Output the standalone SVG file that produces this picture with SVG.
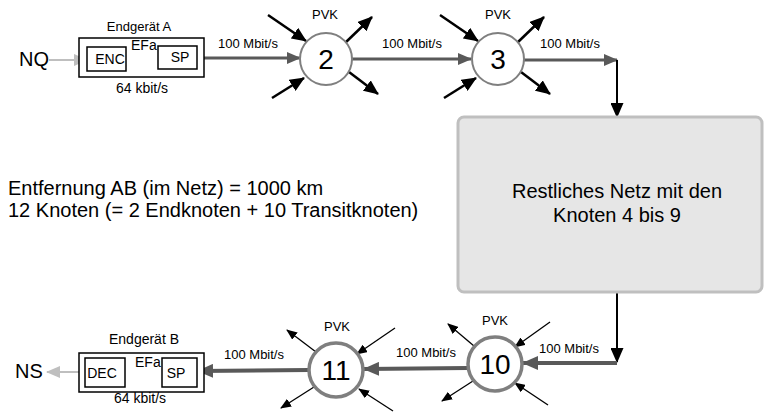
<svg xmlns="http://www.w3.org/2000/svg" width="765" height="412" viewBox="0 0 765 412">
<defs>
<style>
text{font-family:"Liberation Sans",Arial,sans-serif;fill:#000}
.s{font-size:13px}
.m{font-size:14px}
.b{font-size:20px}
.n{font-size:28px;text-anchor:middle}
.c{text-anchor:middle}
.box{fill:#fff;stroke:#000;stroke-width:1.5}
.node{fill:#fff;stroke:#7f7f7f}
.trunk{stroke:#595959;fill:none}
.blk{stroke:#000;fill:none}
.lite{stroke:#bfbfbf;stroke-width:2;fill:none}
</style>
<marker id="aBig" markerUnits="userSpaceOnUse" viewBox="0 0 15 13" refX="14" refY="6.5" markerWidth="15" markerHeight="13" orient="auto"><path d="M0,0L15,6.5L0,13z" fill="#000"/></marker>
<marker id="aSm" markerUnits="userSpaceOnUse" viewBox="0 0 11 9" refX="10" refY="4.5" markerWidth="11" markerHeight="9" orient="auto"><path d="M0,0L11,4.5L0,9z" fill="#000"/></marker>
<marker id="aTiny" markerUnits="userSpaceOnUse" viewBox="0 0 9 7" refX="9" refY="3.5" markerWidth="9" markerHeight="7" orient="auto"><path d="M0,0L9,3.5L0,7z" fill="#000"/></marker>
<marker id="aGray" markerUnits="userSpaceOnUse" viewBox="0 0 14 12" refX="13" refY="6" markerWidth="14" markerHeight="12" orient="auto"><path d="M0,0L14,6L0,12z" fill="#595959"/></marker>
<marker id="aGrayL" markerUnits="userSpaceOnUse" viewBox="0 0 16 14" refX="15" refY="7" markerWidth="16" markerHeight="14" orient="auto"><path d="M0,0L16,7L0,14z" fill="#595959"/></marker>
<marker id="aLite" markerUnits="userSpaceOnUse" viewBox="0 0 14 12" refX="13" refY="6" markerWidth="14" markerHeight="12" orient="auto"><path d="M0,0L14,6L0,12z" fill="#bfbfbf"/></marker>
</defs>
<rect width="765" height="412" fill="#fff"/>

<g id="connectors">
<line class="lite" x1="49" y1="60" x2="87" y2="60" marker-end="url(#aLite)"/>
<line class="blk" stroke-width="1.2" x1="126" y1="59" x2="158" y2="59" marker-end="url(#aTiny)"/>
<line class="trunk" stroke-width="3" x1="197" y1="58" x2="300" y2="58" marker-end="url(#aGray)"/>
<line class="trunk" stroke-width="3" x1="352" y1="59" x2="471" y2="59" marker-end="url(#aGray)"/>
<line class="trunk" stroke-width="3" x1="524" y1="60" x2="617" y2="60" marker-end="url(#aGray)"/>
<line class="blk" stroke-width="2" x1="617" y1="60" x2="617" y2="117" marker-end="url(#aBig)"/>
<line class="blk" stroke-width="2" x1="617" y1="292" x2="617" y2="362" marker-end="url(#aBig)"/>
<line class="trunk" stroke-width="4" x1="617" y1="363" x2="523" y2="363" marker-end="url(#aGrayL)"/>
<line class="trunk" stroke-width="4" x1="468" y1="368" x2="364" y2="369" marker-end="url(#aGrayL)"/>
<line class="trunk" stroke-width="4" x1="309" y1="370" x2="198" y2="371" marker-end="url(#aGrayL)"/>
<line class="blk" stroke-width="1.2" x1="162" y1="372" x2="125" y2="372" marker-end="url(#aTiny)"/>
<line class="lite" x1="85" y1="372" x2="47" y2="372" marker-end="url(#aLite)"/>
<!-- node 2 spokes -->
<line class="blk" stroke-width="2.5" x1="268" y1="15" x2="306" y2="41" marker-end="url(#aBig)"/>
<line class="blk" stroke-width="2.5" x1="272" y1="98" x2="304" y2="78" marker-end="url(#aBig)"/>
<line class="blk" stroke-width="2.5" x1="345" y1="43" x2="372" y2="17" marker-end="url(#aBig)"/>
<line class="blk" stroke-width="2.5" x1="349" y1="72" x2="378" y2="94" marker-end="url(#aBig)"/>
<!-- node 3 spokes -->
<line class="blk" stroke-width="2.5" x1="440" y1="15" x2="478" y2="41" marker-end="url(#aBig)"/>
<line class="blk" stroke-width="2.5" x1="444" y1="98" x2="476" y2="78" marker-end="url(#aBig)"/>
<line class="blk" stroke-width="2.5" x1="517" y1="43" x2="544" y2="17" marker-end="url(#aBig)"/>
<line class="blk" stroke-width="2.5" x1="521" y1="72" x2="550" y2="94" marker-end="url(#aBig)"/>
<!-- node 11 spokes -->
<line class="blk" stroke-width="1.3" x1="316" y1="352" x2="287" y2="330" marker-end="url(#aSm)"/>
<line class="blk" stroke-width="1.3" x1="395" y1="328" x2="357" y2="354" marker-end="url(#aSm)"/>
<line class="blk" stroke-width="1.3" x1="314" y1="387" x2="281" y2="408" marker-end="url(#aSm)"/>
<line class="blk" stroke-width="1.3" x1="393" y1="411" x2="359" y2="389" marker-end="url(#aSm)"/>
<!-- node 10 spokes -->
<line class="blk" stroke-width="1.3" x1="474" y1="346" x2="448" y2="324" marker-end="url(#aSm)"/>
<line class="blk" stroke-width="1.3" x1="550" y1="322" x2="515" y2="347" marker-end="url(#aSm)"/>
<line class="blk" stroke-width="1.3" x1="473" y1="381" x2="442" y2="401" marker-end="url(#aSm)"/>
<line class="blk" stroke-width="1.3" x1="548" y1="405" x2="515" y2="383" marker-end="url(#aSm)"/>
<text class="s" x="218" y="48">100 Mbit/s</text>
<text class="s" x="382" y="48">100 Mbit/s</text>
<text class="s" x="540" y="48">100 Mbit/s</text>
<text class="s" x="539" y="353">100 Mbit/s</text>
<text class="s" x="396" y="357">100 Mbit/s</text>
<text class="s" x="224" y="359">100 Mbit/s</text>
</g>

<g id="nq"><text class="b" x="19" y="66">NQ</text></g>
<g id="ns"><text class="b" x="15" y="378">NS</text></g>

<g id="endgeraet-a">
<text class="s c" x="139" y="31">Endgerät A</text>
<rect class="box" x="79" y="38" width="125" height="39"/>
<rect class="box" x="87" y="47" width="39" height="24"/>
<text class="m c" x="110" y="64">ENC</text>
<rect class="box" x="158" y="46" width="39" height="23"/>
<text class="m c" x="180" y="62">SP</text>
<text class="m" x="131" y="50">EFa</text>
<text class="m c" x="142" y="93">64 kbit/s</text>
</g>

<g id="endgeraet-b">
<text class="m c" x="144" y="344">Endgerät B</text>
<rect class="box" x="79" y="353" width="125" height="39"/>
<rect class="box" x="85" y="358" width="40" height="29"/>
<text class="m c" x="102" y="378">DEC</text>
<rect class="box" x="162" y="358" width="35" height="29"/>
<text class="m c" x="176" y="378">SP</text>
<text class="m" x="135" y="367">EFa</text>
<text class="m c" x="140" y="403">64 kbit/s</text>
</g>

<g id="node-2">
<text class="s c" x="325" y="19">PVK</text>
<circle class="node" stroke-width="2" cx="326" cy="59" r="26"/>
<text class="n" x="326" y="69">2</text>
</g>
<g id="node-3">
<text class="s c" x="498" y="19">PVK</text>
<circle class="node" stroke-width="2" cx="498" cy="59" r="26"/>
<text class="n" x="498" y="69">3</text>
</g>
<g id="node-10">
<text class="s c" x="495" y="325">PVK</text>
<circle class="node" stroke-width="3.5" cx="495" cy="364" r="27"/>
<text class="n" x="495" y="374">10</text>
</g>
<g id="node-11">
<text class="s c" x="337" y="331">PVK</text>
<circle class="node" stroke-width="3.5" cx="336" cy="370" r="27"/>
<text class="n" x="336" y="380">11</text>
</g>

<g id="restnetz">
<rect x="458" y="117" width="304" height="175" rx="6" fill="#e6e6e6" stroke="#bfbfbf" stroke-width="3"/>
<text class="b c" x="617" y="198">Restliches Netz mit den</text>
<text class="b c" x="617" y="222">Knoten 4 bis 9</text>
</g>

<g id="info">
<text class="b" x="8" y="195">Entfernung AB (im Netz) = 1000 km</text>
<text class="b" x="8" y="217">12 Knoten (= 2 Endknoten + 10 Transitknoten)</text>
</g>
</svg>
